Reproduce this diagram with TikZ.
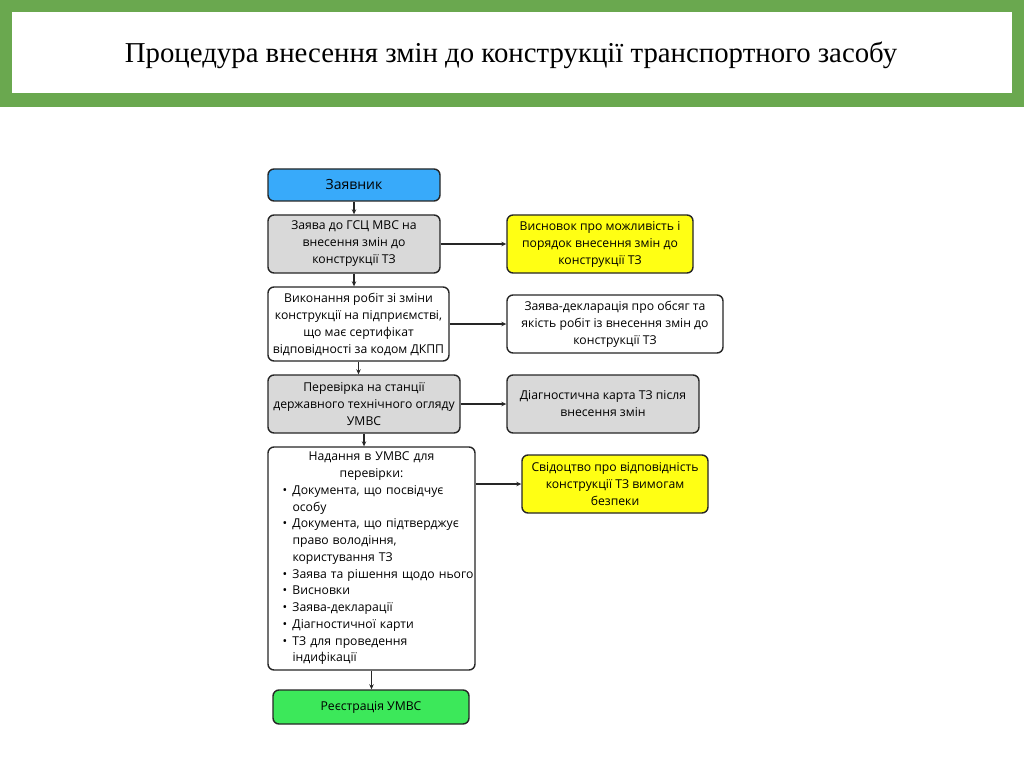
\documentclass[tikz,border=0pt]{standalone}
\usepackage{fontspec}
\setmainfont{Liberation Serif}
\setsansfont{Open Sans}
\usetikzlibrary{arrows.meta}

\definecolor{framegreen}{RGB}{106,168,79}
\definecolor{boxblue}{RGB}{56,170,250}
\definecolor{boxgrey}{RGB}{217,217,217}
\definecolor{boxyellow}{RGB}{255,255,20}
\definecolor{boxgreen}{RGB}{60,232,90}

% bullet line and its continuation
\newcommand\blt[1]{\par\noindent\makebox[21pt][l]{\hspace{11pt}\textbullet}\mbox{#1}}
\newcommand\cnt[1]{\par\noindent\hspace*{21pt}\mbox{#1}}

\tikzset{
  block/.style={draw=black!85,line width=1.4pt,rounded corners=6pt,align=center,
    font=\sffamily\fontsize{12.2}{17}\selectfont,inner sep=1pt},
  flow/.style={draw=black!85,line width=1.2pt,-{Stealth[length=5pt,width=4.5pt]}}
}

\begin{document}
\begin{tikzpicture}[x=1pt,y=-1pt]
			\useasboundingbox (0,0) rectangle (1024,767);
			% header
			\fill [framegreen] (0,0) rectangle (1024,107);
			\fill [white] (12,12) rectangle (1012,93);
			\node (title) at (511,55) {\fontsize{28.8}{32}\selectfont Процедура внесення змін до конструкції транспортного засобу};
			
			\begin{scope}[every node/.style={block}]
				\node [fill=boxblue,minimum width=172,minimum height=32,font=\sffamily\fontsize{14}{17}\selectfont] (applicant) at (354,185) {Заявник};
				\node [fill=boxgrey,minimum width=172,minimum height=58] (request) at (354,244) {Заява до ГСЦ МВС на\\внесення змін до\\конструкції ТЗ};
				\node [fill=boxyellow,minimum width=186,minimum height=58] (conclusion) at (600,244) {Висновок про можливість і\\порядок внесення змін до\\конструкції ТЗ};
				\node [fill=white,minimum width=181,minimum height=74] (works) at (358.5,324) {Виконання робіт зі зміни\\конструкції на підприємстві,\\що має сертифікат\\відповідності за кодом ДКПП};
				\node [fill=white,minimum width=216,minimum height=58] (declaration) at (615,324) {Заява-декларація про обсяг та\\якість робіт із внесення змін до\\конструкції ТЗ};
				\node [fill=boxgrey,minimum width=192,minimum height=58] (inspection) at (364,404) {Перевірка на станції\\державного технічного огляду\\УМВС};
				\node [fill=boxgrey,minimum width=192,minimum height=58] (diagcard) at (603,404) {Діагностична карта ТЗ після\\внесення змін};
				\node [fill=white,minimum width=207,minimum height=223,text width=200,inner xsep=3.5pt,align=left,
					font=\sffamily\fontsize{12.2}{16.75}\selectfont] (submit) at (371.5,558.5) {%
					{\centering Надання в УМВС для\\перевірки:\par}%
					\blt{Документа, що посвідчує}\cnt{особу}%
					\blt{Документа, що підтверджує}\cnt{право володіння,}\cnt{користування ТЗ}%
					\blt{Заява та рішення щодо нього}%
					\blt{Висновки}%
					\blt{Заява-декларації}%
					\blt{Діагностичної карти}%
					\blt{ТЗ для проведення}\cnt{індифікації}};
				\node [fill=boxyellow,minimum width=186,minimum height=58] (certificate) at (615,484) {Свідоцтво про відповідність\\конструкції ТЗ вимогам\\безпеки};
				\node [fill=boxgreen,minimum width=196,minimum height=34] (registration) at (371,707) {Реєстрація УМВС};
			\end{scope}
			
			\begin{scope}[every path/.style={flow}]
				\draw (applicant.south) -- (applicant.south |- request.north);
				\draw (request.south) -- (request.south |- works.north);
				\draw (works.south) -- (works.south |- inspection.north);
				\draw (inspection.south) -- (inspection.south |- submit.north);
				\draw (submit.south) -- (submit.south |- registration.north);
				\draw (request.east) -- (conclusion.west);
				\draw (works.east) -- (declaration.west);
				\draw (inspection.east) -- (diagcard.west);
				\draw (submit.east |- certificate.west) -- (certificate.west);
			\end{scope}
		\end{tikzpicture}
\end{document}
